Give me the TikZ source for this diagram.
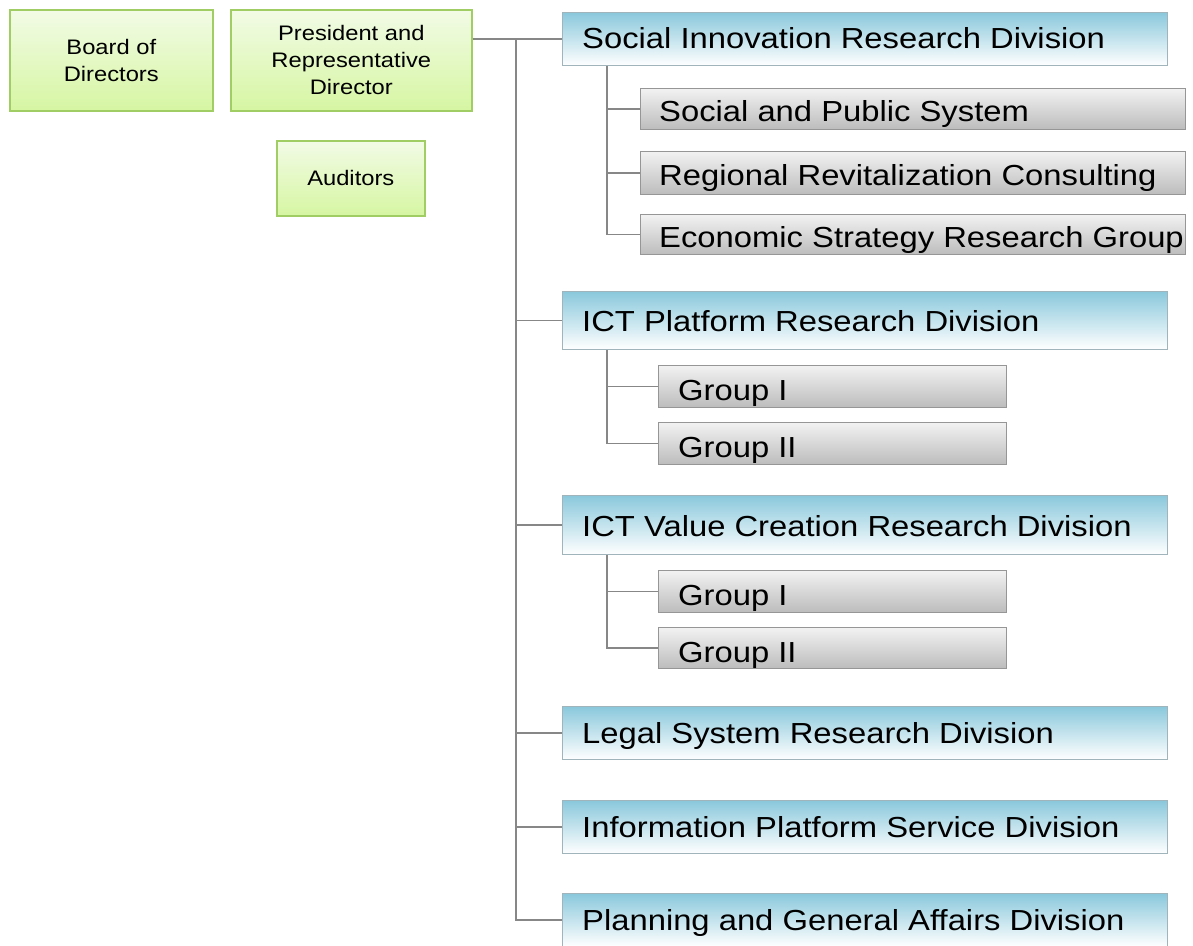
\documentclass[tikz,border=0pt]{standalone}
\usepackage{fontspec}
\setmainfont{Liberation Sans}[FakeStretch=1.13]
\definecolor{greenB}{RGB}{160,206,100}
\definecolor{greenT}{RGB}{242,251,230}
\definecolor{greenBot}{RGB}{214,246,162}
\definecolor{blueB}{RGB}{160,180,188}
\definecolor{blueT}{RGB}{138,200,220}
\definecolor{blueM}{RGB}{205,233,242}
\definecolor{grayB}{RGB}{150,150,150}
\definecolor{grayT}{RGB}{242,242,242}
\definecolor{grayBot}{RGB}{188,188,188}
\definecolor{lineC}{RGB}{135,135,135}
\begin{document}
\begin{tikzpicture}[x=1pt,y=-1pt,
  conn/.style={draw=lineC, line width=1.5pt},
  greenbox/.style={draw=greenB, line width=1.6pt, top color=greenT, bottom color=greenBot,
    anchor=north west, inner sep=0pt, align=center, font=\fontsize{21}{27}\selectfont},
  divbox/.style={draw=blueB, line width=1.2pt, top color=blueT, middle color=blueM, bottom color=white,
    anchor=north west, minimum width=605pt, inner sep=0pt},
  subbox/.style={draw=grayB, line width=1.2pt, top color=grayT, bottom color=grayBot,
    anchor=north west, inner sep=0pt},
  lbl/.style={anchor=base west, inner sep=0pt, font=\fontsize{29}{34}\selectfont}
]
\useasboundingbox (0,0) rectangle (1193,945);

% top-left boxes
\node[greenbox, minimum width=203pt, minimum height=101pt] (board) at (9,9) {Board of\\Directors};
\node[greenbox, minimum width=241pt, minimum height=101pt] (pres) at (230,9) {President and\\Representative\\Director};
\node[greenbox, minimum width=148pt, minimum height=75pt] (aud) at (276,140) {Auditors};

% divisions
\node[divbox, minimum height=53pt] (soc) at (562,12) {};
\node[divbox, minimum height=58pt] (ictp) at (562,291) {};
\node[divbox, minimum height=59pt] (ictv) at (562,495) {};
\node[divbox, minimum height=53pt] (legal) at (562,706) {};
\node[divbox, minimum height=53pt] (info) at (562,800) {};
\node[divbox, minimum height=53pt] (plan) at (562,893) {};

\node[lbl] (socT) at ([xshift=20pt,yshift=-9.5pt]soc.west) {Social Innovation Research Division};
\node[lbl] (ictpT) at ([xshift=20pt,yshift=-11pt]ictp.west) {ICT Platform Research Division};
\node[lbl] (ictvT) at ([xshift=20pt,yshift=-11pt]ictv.west) {ICT Value Creation Research Division};
\node[lbl] (legalT) at ([xshift=20pt,yshift=-10pt]legal.west) {Legal System Research Division};
\node[lbl] (infoT) at ([xshift=20pt,yshift=-10pt]info.west) {Information Platform Service Division};
\node[lbl] (planT) at ([xshift=20pt,yshift=-10pt]plan.west) {Planning and General Affairs Division};

% sub boxes of Social Innovation
\node[subbox, minimum width=545pt, minimum height=41pt] (s1) at (640,88) {};
\node[subbox, minimum width=545pt, minimum height=43pt] (s2) at (640,151) {};
\node[subbox, minimum width=545pt, minimum height=40pt] (s3) at (640,214) {};
\node[lbl] (s1T) at ([xshift=19pt,yshift=-12pt]s1.west) {Social and Public System};
\node[lbl] (s2T) at ([xshift=19pt,yshift=-12.5pt]s2.west) {Regional Revitalization Consulting};
\node[lbl] (s3T) at ([xshift=19pt,yshift=-13pt]s3.west) {Economic Strategy Research Group};

% groups
\node[subbox, minimum width=348pt, minimum height=42pt] (p1) at (658,365) {};
\node[subbox, minimum width=348pt, minimum height=42pt] (p2) at (658,422) {};
\node[subbox, minimum width=348pt, minimum height=42pt] (v1) at (658,570) {};
\node[subbox, minimum width=348pt, minimum height=41pt] (v2) at (658,627) {};
\node[lbl] (p1T) at ([xshift=20pt,yshift=-14pt]p1.west) {Group I};
\node[lbl] (p2T) at ([xshift=20pt,yshift=-14pt]p2.west) {Group II};
\node[lbl] (v1T) at ([xshift=20pt,yshift=-14pt]v1.west) {Group I};
\node[lbl] (v2T) at ([xshift=20pt,yshift=-14pt]v2.west) {Group II};

% connectors
\coordinate (tr) at (516,0);
\coordinate (st) at (607,0);
\draw[conn] (pres.east |- soc.west) -- (soc.west);
\draw[conn] (tr |- soc.west) -- (tr |- plan.west) -- (plan.west);
\draw[conn] (tr |- ictp.west) -- (ictp.west);
\draw[conn] (tr |- ictv.west) -- (ictv.west);
\draw[conn] (tr |- legal.west) -- (legal.west);
\draw[conn] (tr |- info.west) -- (info.west);

\draw[conn] (st |- soc.south) -- (st |- s3.west) -- (s3.west);
\draw[conn] (st |- s1.west) -- (s1.west);
\draw[conn] (st |- s2.west) -- (s2.west);

\draw[conn] (st |- ictp.south) -- (st |- p2.west) -- (p2.west);
\draw[conn] (st |- p1.west) -- (p1.west);

\draw[conn] (st |- ictv.south) -- (st |- v2.west) -- (v2.west);
\draw[conn] (st |- v1.west) -- (v1.west);
\end{tikzpicture}
\end{document}
